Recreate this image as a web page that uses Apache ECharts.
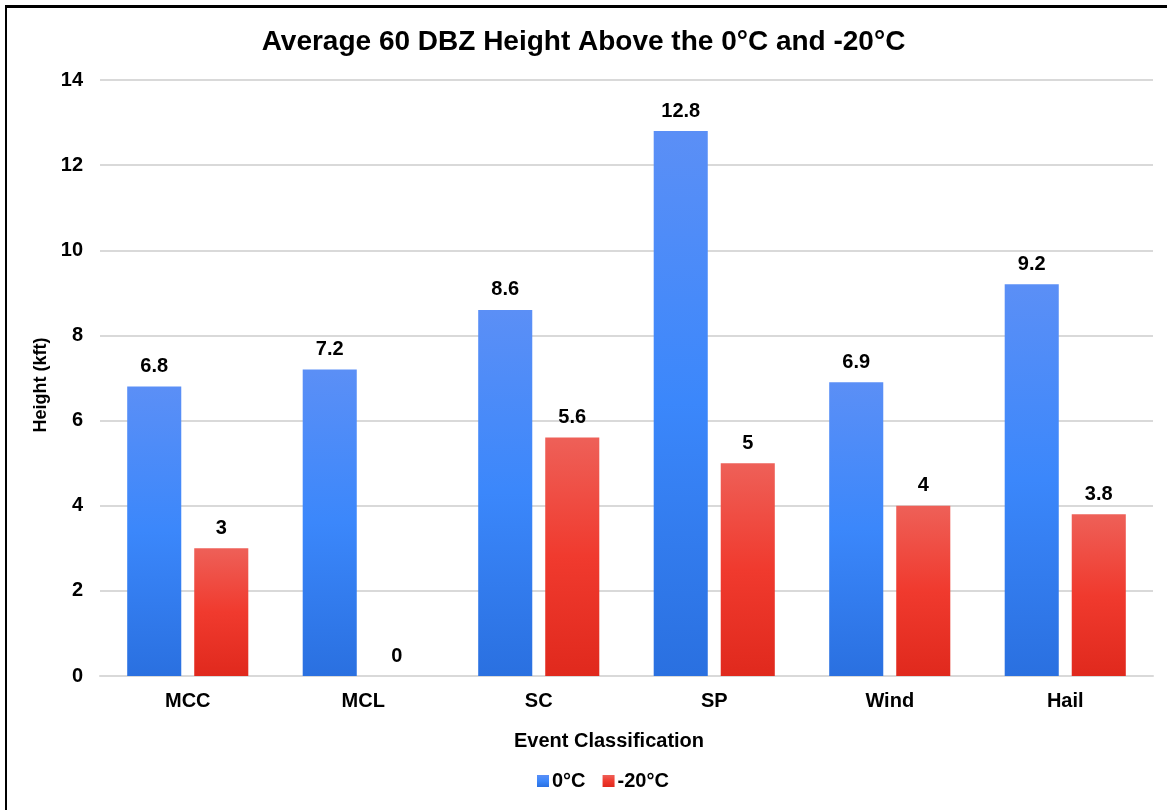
<!DOCTYPE html>
<html>
<head>
<meta charset="utf-8">
<script src="https://cdn.jsdelivr.net/npm/echarts@6/dist/echarts.min.js"></script>
<style>
html,body{margin:0;padding:0;background:#fff;}
#frame{position:absolute;left:5px;top:5px;width:1162px;height:805px;border-top:3px solid #000;border-left:2px solid #000;box-sizing:border-box;}
#chart{position:absolute;left:0;top:0;width:1167px;height:810px;}
</style>
</head>
<body>
<div id="chart"></div>
<div id="frame"></div>
<script>
const categories = ['MCC', 'MCL', 'SC', 'SP', 'Wind', 'Hail'];
const zeroC = [6.8, 7.2, 8.6, 12.8, 6.9, 9.2];
const minus20C = [3, 0, 5.6, 5, 4, 3.8];
const seriesNames = ['0°C', '-20°C'];

const font = 'Liberation Sans, Arial, sans-serif';
const chart = echarts.init(document.getElementById('chart'));
function grad(top, mid, bottom) {
  return new echarts.graphic.LinearGradient(0, 0, 0, 1, [
    {offset: 0, color: top}, {offset: 0.5, color: mid}, {offset: 1, color: bottom}
  ]);
}
const lbl = {fontFamily: font, fontSize: 20, fontWeight: 'bold', color: '#000'};
chart.setOption({
  backgroundColor: '#fff',
  animation: false,
  title: {
    text: 'Average 60 DBZ Height Above the 0°C and -20°C',
    left: 'center', top: 23,
    textStyle: {fontFamily: font, fontSize: 28, fontWeight: 'bold', color: '#000'}
  },
  legend: {
    data: seriesNames,
    bottom: 14, left: 532,
    itemWidth: 12, itemHeight: 12, itemGap: 17,
    icon: 'rect',
    textStyle: Object.assign({}, lbl, {padding: [0, 0, 0, -2]})
  },
  grid: {left: 100, right: 14, top: 80, bottom: 134},
  xAxis: {
    type: 'category', data: categories,
    name: 'Event Classification', nameLocation: 'middle', nameGap: 55,
    nameTextStyle: Object.assign({}, lbl, {padding: [0, 35, 0, 0]}),
    axisLine: {lineStyle: {color: '#d9d9d9', width: 2}},
    axisTick: {show: false},
    axisLabel: Object.assign({}, lbl, {margin: 15})
  },
  yAxis: {
    type: 'value', min: 0, max: 14, interval: 2,
    name: 'Height (kft)', nameLocation: 'middle', nameGap: 48,
    nameTextStyle: Object.assign({}, lbl, {fontSize: 18, padding: [0, 0, 0, -14]}),
    axisLine: {show: false}, axisTick: {show: false},
    axisLabel: Object.assign({}, lbl, {margin: 17}),
    splitLine: {lineStyle: {color: '#d9d9d9', width: 2}}
  },
  series: [
    {
      name: seriesNames[0], type: 'bar', data: zeroC,
      barGap: '24%', barCategoryGap: '31%',
      itemStyle: {color: grad('#5b8ff6', '#3b87fb', '#2a70e0')},
      label: Object.assign({show: true, position: 'top', distance: 10}, lbl)
    },
    {
      name: seriesNames[1], type: 'bar', data: minus20C,
      itemStyle: {color: grad('#ee6058', '#f03a2e', '#e0291d')},
      label: Object.assign({show: true, position: 'top', distance: 10}, lbl)
    }
  ]
});
</script>
</body>
</html>
